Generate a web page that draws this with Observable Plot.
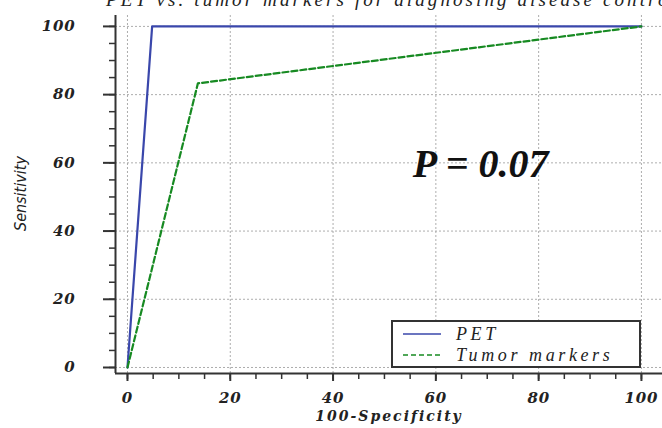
<!DOCTYPE html>
<html>
<head>
<meta charset="utf-8">
<script src="https://cdn.jsdelivr.net/npm/d3@7"></script>
<script src="https://cdn.jsdelivr.net/npm/@observablehq/plot@0.6"></script>
<style>
  html, body { margin: 0; padding: 0; background: #fff; overflow: hidden; }
  #wrap { position: relative; width: 662px; height: 428px; }
  #title { position: absolute; left: 106px; top: -11px; white-space: nowrap;
    font-family: "Liberation Serif", serif; font-style: italic; font-size: 19px;
    letter-spacing: 3.1px; color: #222; }
  #legend { position: absolute; left: 391px; top: 320px; width: 246px; height: 44px;
    border: 2px solid #333; background: #fff; }
  #legend .row { position: absolute; left: 0; height: 20px; display: flex; align-items: center; }
  #legend svg { margin-left: 10px; }
  #legend span { margin-left: 15px; font-family: "Liberation Serif", serif; font-style: italic;
    font-size: 18px; letter-spacing: 3.6px; color: #222; }
  g[aria-label="y-axis tick label"] text, g[aria-label="x-axis tick label"] text { letter-spacing: 0.8px; }
  .xlab text { letter-spacing: 2px; }
</style>
</head>
<body>
<div id="wrap">
  <div id="chart"></div>
  <div id="title"></div>
  <div id="legend"></div>
</div>
<script>
const titleText = "PET vs. tumor markers for diagnosing disease control";
const xLabel = "100-Specificity";
const yLabel = "Sensitivity";
const seriesNames = ["PET", "Tumor markers"];
const seriesColors = ["#3a47ab", "#178a22"];
const petX = [0, 4.8, 100];
const petY = [0, 100, 100];
const tumorX = [0, 13.7, 100];
const tumorY = [0, 83.3, 100];
const majorTicks = [0, 20, 40, 60, 80, 100];
const minorTicks = d3.range(0, 101, 5);
const annotationText = ["P = 0.07"];
const annotationX = [68.7];
const annotationY = [59.5];
const yLabelPos = {x: -20.8, y: 51};

const pet = petX.map((x, i) => ({x, y: petY[i]}));
const tumor = tumorX.map((x, i) => ({x, y: tumorY[i]}));

const xDomain = [-2.33, 104.1];
const yDomain = [-1.76, 103.2];

const chart = Plot.plot({
  width: 662,
  height: 428,
  marginLeft: 115,
  marginRight: 0,
  marginTop: 15,
  marginBottom: 55,
  x: {domain: xDomain},
  y: {domain: yDomain},
  marks: [
    Plot.gridX(majorTicks, {stroke: "#999", strokeOpacity: 0.8, strokeDasharray: "2,2"}),
    Plot.gridY(majorTicks, {stroke: "#999", strokeOpacity: 0.8, strokeDasharray: "2,2"}),
    Plot.line(pet, {x: "x", y: "y", stroke: seriesColors[0], strokeWidth: 2.2}),
    Plot.line(tumor, {x: "x", y: "y", stroke: seriesColors[1], strokeWidth: 2.2, strokeDasharray: "6,3"}),
    Plot.ruleX([xDomain[0]], {y1: yDomain[0], y2: yDomain[1], stroke: "#333", strokeWidth: 2}),
    Plot.ruleY([yDomain[0]], {x1: xDomain[0], x2: xDomain[1], stroke: "#333", strokeWidth: 2}),
    Plot.axisY(minorTicks, {tickSize: 6, text: null, stroke: "#333", strokeWidth: 1.5, label: null}),
    Plot.axisY(majorTicks, {tickSize: 12, tickPadding: 28, stroke: "#333", strokeWidth: 2, label: null,
      fontFamily: "DejaVu Serif", fontStyle: "italic", fontWeight: "bold", fontSize: 15, fill: "#222"}),
    Plot.axisX(minorTicks, {tickSize: 6, text: null, stroke: "#333", strokeWidth: 1.5, label: null}),
    Plot.axisX(majorTicks, {tickSize: 8, tickPadding: 11, stroke: "#333", strokeWidth: 2, label: null,
      fontFamily: "DejaVu Serif", fontStyle: "italic", fontWeight: "bold", fontSize: 15, fill: "#222"}),
    Plot.text([xLabel], {frameAnchor: "bottom", dy: 47, fontFamily: "DejaVu Serif", fontStyle: "italic",
      fontWeight: "bold", fontSize: 14, fill: "#222", className: "xlab"}),
    Plot.text([yLabel], {x: [yLabelPos.x], y: [yLabelPos.y], rotate: -90, clip: false,
      fontFamily: "Liberation Sans Narrow, DejaVu Sans Condensed, sans-serif",
      fontStyle: "italic", fontSize: 16, fill: "#222"}),
    Plot.text(annotationText, {x: annotationX, y: annotationY, fontFamily: "Liberation Serif", fontStyle: "italic",
      fontWeight: "bold", fontSize: 40, fill: "#111"})
  ]
});
document.getElementById("chart").appendChild(chart);
document.getElementById("title").textContent = titleText;

const legend = document.getElementById("legend");
seriesNames.forEach((name, i) => {
  const row = document.createElement("div");
  row.className = "row";
  row.style.top = (i === 0 ? 2 : 23) + "px";
  row.innerHTML = `<svg width="38" height="4"><line x1="0" y1="2" x2="38" y2="2" stroke="${seriesColors[i]}" stroke-width="1.5" ${i === 1 ? 'stroke-dasharray="5,3"' : ''}/></svg><span>${name}</span>`;
  legend.appendChild(row);
});
</script>
</body>
</html>
